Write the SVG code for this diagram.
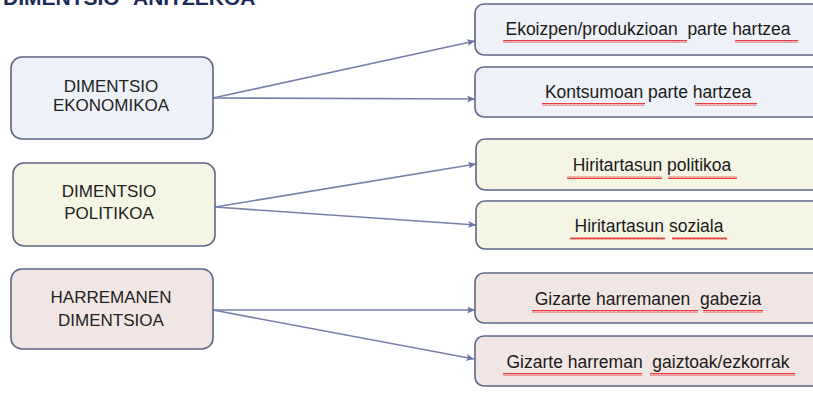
<svg xmlns="http://www.w3.org/2000/svg" width="813" height="396" viewBox="0 0 813 396">
<defs>
<style>
.box{stroke:#5f6788;stroke-width:1.6}
.blue{fill:#eef1f7}
.cream{fill:#f5f5e4}
.pink{fill:#f2e6e4}
.lt{font-family:"Liberation Sans",Arial,sans-serif;font-size:17px;fill:#222;text-anchor:middle}
.rt{font-family:"Liberation Sans",Arial,sans-serif;font-size:17.5px;fill:#1a1a1a;text-anchor:middle}
.title{font-family:"Liberation Sans",Arial,sans-serif;font-size:21px;font-weight:bold;fill:#1c2a5a}
.con{stroke:#7880a8;stroke-width:1.6;fill:none;marker-end:url(#arr)}
.sq{fill:url(#zig)}
</style>
<marker id="arr" markerWidth="10" markerHeight="8" refX="8" refY="3.5" orient="auto" markerUnits="userSpaceOnUse">
<path d="M0,0 L8,3.5 L0,7 L2,3.5 z" fill="#6b739e"/>
</marker>
<pattern id="zig" width="4" height="3" patternUnits="userSpaceOnUse">
<path d="M0,2.5 L1,0.5 L2,2.5 L3,0.5 L4,2.5" stroke="#e8282a" stroke-width="0.9" fill="none"/>
</pattern>
</defs>
<rect width="813" height="396" fill="#ffffff"/>
<text class="title" x="3" y="5">DIMENTSIO<tspan x="133">ANITZEKOA</tspan></text>
<g id="connectors">
<line class="con" x1="213" y1="98" x2="475" y2="41"/>
<line class="con" x1="213" y1="98" x2="475" y2="99"/>
<line class="con" x1="215" y1="207" x2="476" y2="164"/>
<line class="con" x1="215" y1="207" x2="476" y2="225"/>
<line class="con" x1="213" y1="310" x2="475" y2="310"/>
<line class="con" x1="213" y1="310" x2="474" y2="359"/>
</g>
<g id="n-ekonomikoa">
<rect class="box blue" x="11" y="57" width="202" height="82" rx="11"/>
<text class="lt" x="111" y="92">DIMENTSIO</text>
<text class="lt" x="111" y="111">EKONOMIKOA</text>
</g>
<g id="n-politikoa">
<rect class="box cream" x="13" y="163" width="202" height="83" rx="11"/>
<text class="lt" x="109" y="197">DIMENTSIO</text>
<text class="lt" x="109" y="219">POLITIKOA</text>
</g>
<g id="n-harreman">
<rect class="box pink" x="11" y="269" width="202" height="80" rx="11"/>
<text class="lt" x="111" y="303">HARREMANEN</text>
<text class="lt" x="111" y="326">DIMENTSIOA</text>
</g>
<g id="n-ekoizpen">
<rect class="box blue" x="475" y="4" width="360" height="51" rx="9"/>
<text class="rt" x="648" y="35" xml:space="preserve">Ekoizpen/produkzioan  parte hartzea</text>
<rect class="sq" x="503" y="40" width="184" height="3"/>
<rect class="sq" x="735" y="40" width="63" height="3"/>
</g>
<g id="n-kontsumoa">
<rect class="box blue" x="475" y="67" width="360" height="50" rx="9"/>
<text class="rt" x="648" y="98">Kontsumoan parte hartzea</text>
<rect class="sq" x="542" y="103" width="103" height="3"/>
<rect class="sq" x="695" y="103" width="62" height="3"/>
</g>
<g id="n-hiritar-pol">
<rect class="box cream" x="476" y="139" width="360" height="51" rx="9"/>
<text class="rt" x="652" y="171">Hiritartasun politikoa</text>
<rect class="sq" x="567" y="176" width="95" height="3"/>
<rect class="sq" x="668" y="176" width="69" height="3"/>
</g>
<g id="n-hiritar-soz">
<rect class="box cream" x="476" y="201" width="360" height="48" rx="9"/>
<text class="rt" x="649" y="232">Hiritartasun soziala</text>
<rect class="sq" x="570" y="237" width="95" height="3"/>
<rect class="sq" x="672" y="237" width="55" height="3"/>
</g>
<g id="n-gabezia">
<rect class="box pink" x="475" y="273" width="360" height="50" rx="9"/>
<text class="rt" x="648" y="305" xml:space="preserve">Gizarte harremanen  gabezia</text>
<rect class="sq" x="532" y="310" width="166" height="3"/>
<rect class="sq" x="703" y="310" width="60" height="3"/>
</g>
<g id="n-gaiztoak">
<rect class="box pink" x="475" y="336" width="360" height="50" rx="9"/>
<text class="rt" x="648" y="368" xml:space="preserve">Gizarte harreman  gaiztoak/ezkorrak</text>
<rect class="sq" x="503" y="373" width="139" height="3"/>
<rect class="sq" x="650" y="373" width="145" height="3"/>
</g>
</svg>
